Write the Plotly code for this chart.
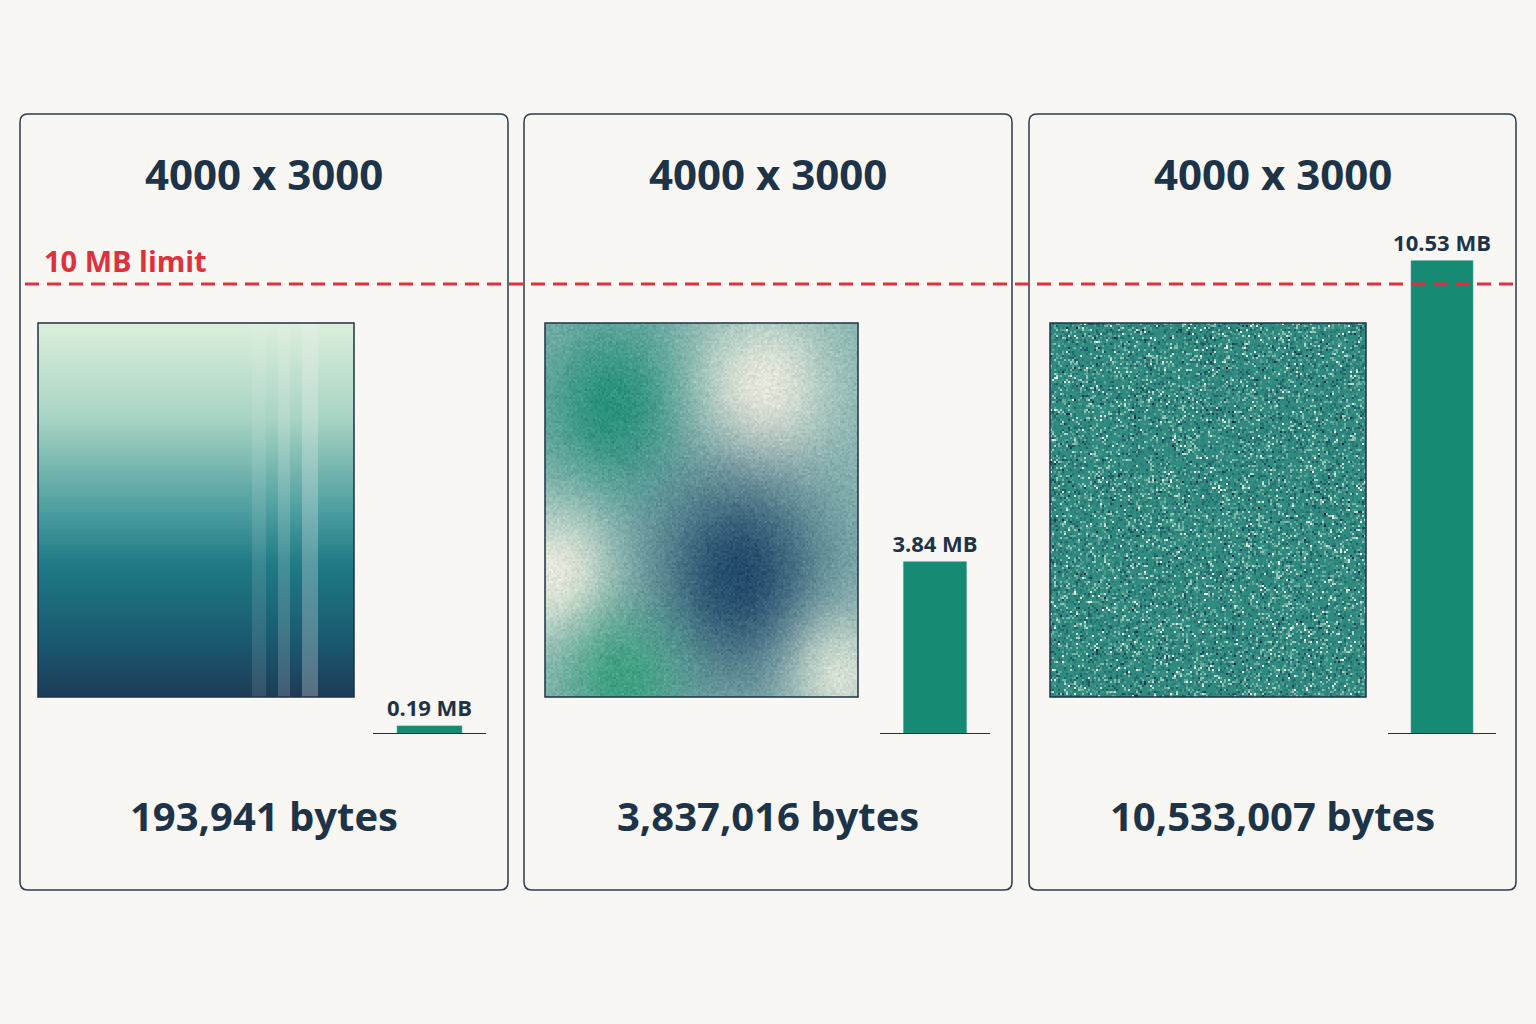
import numpy as np
import plotly.graph_objects as go

W, H = 1536, 1024
titles = ["4000 x 3000", "4000 x 3000", "4000 x 3000"]
sizes_mb = [0.19, 3.84, 10.53]
size_labels = ["0.19 MB", "3.84 MB", "10.53 MB"]
bytes_labels = ["193,941 bytes", "3,837,016 bytes", "10,533,007 bytes"]
limit_mb = 10
limit_label = "10 MB limit"

NAVY = "#1d3348"; RED = "#e0303c"; BAR = "#168a72"; BG = "#f8f7f3"

def px(x): return x / W
def py(y): return 1 - y / H

panels = [(20, 508), (524, 1012), (1029, 1516)]
img_x = [(38, 354), (545, 858), (1050, 1366)]
bar_x = [(373, 486), (880, 990), (1388, 1496)]
img_y = (323, 697)
base_y = 734
ymax = 11
bar_top = base_y - 45 * ymax

def hexrgb(h):
    h = h.lstrip("#"); return np.array([int(h[i:i+2], 16) for i in (0, 2, 4)], float)

# textures (decorative)
iw, ih = 158, 187
yy, xx = np.mgrid[0:ih, 0:iw]
u = xx / (iw - 1); v = yy / (ih - 1)
stops = [(0, "#dcefdc"), (0.25, "#a9d5c4"), (0.5, "#4e9fa0"), (0.65, "#1f7a85"), (0.85, "#1a5a70"), (1, "#1e3c58")]
img1 = np.zeros((ih, iw, 3))
for c in range(3):
    img1[..., c] = np.interp(v, [s[0] for s in stops], [hexrgb(s[1])[c] for s in stops])
stripe = np.zeros_like(u)
for a, b, s in [(0.68, 0.72, 0.12), (0.76, 0.8, 0.18), (0.84, 0.89, 0.28)]:
    stripe[(u >= a) & (u <= b)] = s
img1 = img1 * (1 - stripe[..., None]) + 240 * stripe[..., None]
rng = np.random.default_rng(7)
img2 = np.tile(hexrgb("#86b4b0"), (ih, iw, 1))
for cx, cy, s, col in [(0.22, 0.22, 0.17, "#23907a"), (0.7, 0.18, 0.15, "#f1efe0"),
                       (0.62, 0.68, 0.2, "#1e4568"), (0.03, 0.68, 0.13, "#f0eedf"),
                       (0.25, 0.97, 0.14, "#3aa080"), (0.95, 0.95, 0.12, "#d8e2d4")]:
    w = np.exp(-((u - cx) ** 2 + (v - cy) ** 2) / (2 * s * s))[..., None] * 0.95
    img2 = img2 * (1 - w) + hexrgb(col) * w
img2 += rng.normal(0, 6, (ih, iw, 1))
n = rng.normal(0, 1, (ih, iw))
img3 = np.tile(hexrgb("#2f8a80"), (ih, iw, 1))
light = np.clip(n - 0.6, 0, None)[..., None] * 0.6
dark = np.clip(-n - 0.6, 0, None)[..., None] * 0.5
img3 = img3 * (1 - light) + hexrgb("#d6ecd8") * light
img3 = img3 * (1 - dark) + hexrgb("#173e52") * dark
imgs = [np.clip(i, 0, 255).astype(np.uint8) for i in (img1, img2, img3)]

fig = go.Figure()
layout = {}
shapes = []
annotations = []
for k in range(3):
    ia = 2 * k + 1; ba = 2 * k + 2
    fig.add_trace(go.Image(z=imgs[k], xaxis=f"x{ia}", yaxis=f"y{ia}", hoverinfo="skip"))
    layout[f"xaxis{ia}"] = dict(domain=[px(img_x[k][0]), px(img_x[k][1])], range=[-0.5, iw - 0.5], visible=False)
    layout[f"yaxis{ia}"] = dict(domain=[py(img_y[1]), py(img_y[0])], range=[ih - 0.5, -0.5], visible=False)
    fig.add_trace(go.Bar(x=[0], y=[sizes_mb[k]], width=0.58, marker_color=BAR, text=[size_labels[k]],
                         textposition="outside", cliponaxis=False, constraintext="none",
                         textfont=dict(size=22, color=NAVY, family="Open Sans", weight="bold"),
                         xaxis=f"x{ba}", yaxis=f"y{ba}"))
    layout[f"xaxis{ba}"] = dict(domain=[px(bar_x[k][0]), px(bar_x[k][1])], range=[-0.5, 0.5], visible=False)
    layout[f"yaxis{ba}"] = dict(domain=[py(base_y), py(bar_top)], range=[0, ymax], visible=False)
    shapes.append(dict(type="line", xref=f"x{ba} domain", yref=f"y{ba}", x0=0, x1=1, y0=0, y1=0,
                       line=dict(color=NAVY, width=2)))
    shapes.append(dict(type="rect", xref="paper", yref="paper", x0=px(img_x[k][0]), x1=px(img_x[k][1]),
                       y0=py(img_y[1]), y1=py(img_y[0]), line=dict(color=NAVY, width=1.5)))
    x0, x1 = panels[k]; y0, y1 = 114, 890; r = 8
    path = (f"M {x0+r},{y0} L {x1-r},{y0} Q {x1},{y0} {x1},{y0+r} L {x1},{y1-r} Q {x1},{y1} {x1-r},{y1} "
            f"L {x0+r},{y1} Q {x0},{y1} {x0},{y1-r} L {x0},{y0+r} Q {x0},{y0} {x0+r},{y0} Z")
    shapes.append(dict(type="path", xref="x7", yref="y7", path=path, line=dict(color="#2a3d4e", width=1.5), layer="below"))
    cx = (x0 + x1) / 2
    annotations.append(dict(text=titles[k], x=px(cx), y=py(173), xref="paper", yref="paper", showarrow=False,
                            xanchor="center", yanchor="middle",
                            font=dict(size=42, color=NAVY, family="Open Sans", weight="bold")))
    annotations.append(dict(text=bytes_labels[k], x=px(cx), y=py(815), xref="paper", yref="paper", showarrow=False,
                            xanchor="center", yanchor="middle",
                            font=dict(size=40, color=NAVY, family="Open Sans", weight="bold")))

layout["xaxis7"] = dict(domain=[0, 1], range=[0, W], visible=False)
layout["yaxis7"] = dict(domain=[0, 1], range=[H, 0], visible=False)
shapes.append(dict(type="line", xref="paper", yref="y6", x0=px(25), x1=px(1516), y0=limit_mb, y1=limit_mb,
                   line=dict(color=RED, width=3, dash="14px,8px")))
annotations.append(dict(text=limit_label, x=px(42), y=py(260), xref="paper", yref="paper", xanchor="left",
                        yanchor="middle", showarrow=False,
                        font=dict(size=29, color=RED, family="Open Sans", weight="bold")))

fig.update_layout(width=W, height=H, margin=dict(l=0, r=0, t=0, b=0), paper_bgcolor=BG, plot_bgcolor="rgba(0,0,0,0)",
                  showlegend=False, shapes=shapes, annotations=annotations, **layout)
fig.write_html("out.html", config={"displayModeBar": False},
               post_script="document.body.style.margin='0';document.body.style.background='#f8f7f3';")
